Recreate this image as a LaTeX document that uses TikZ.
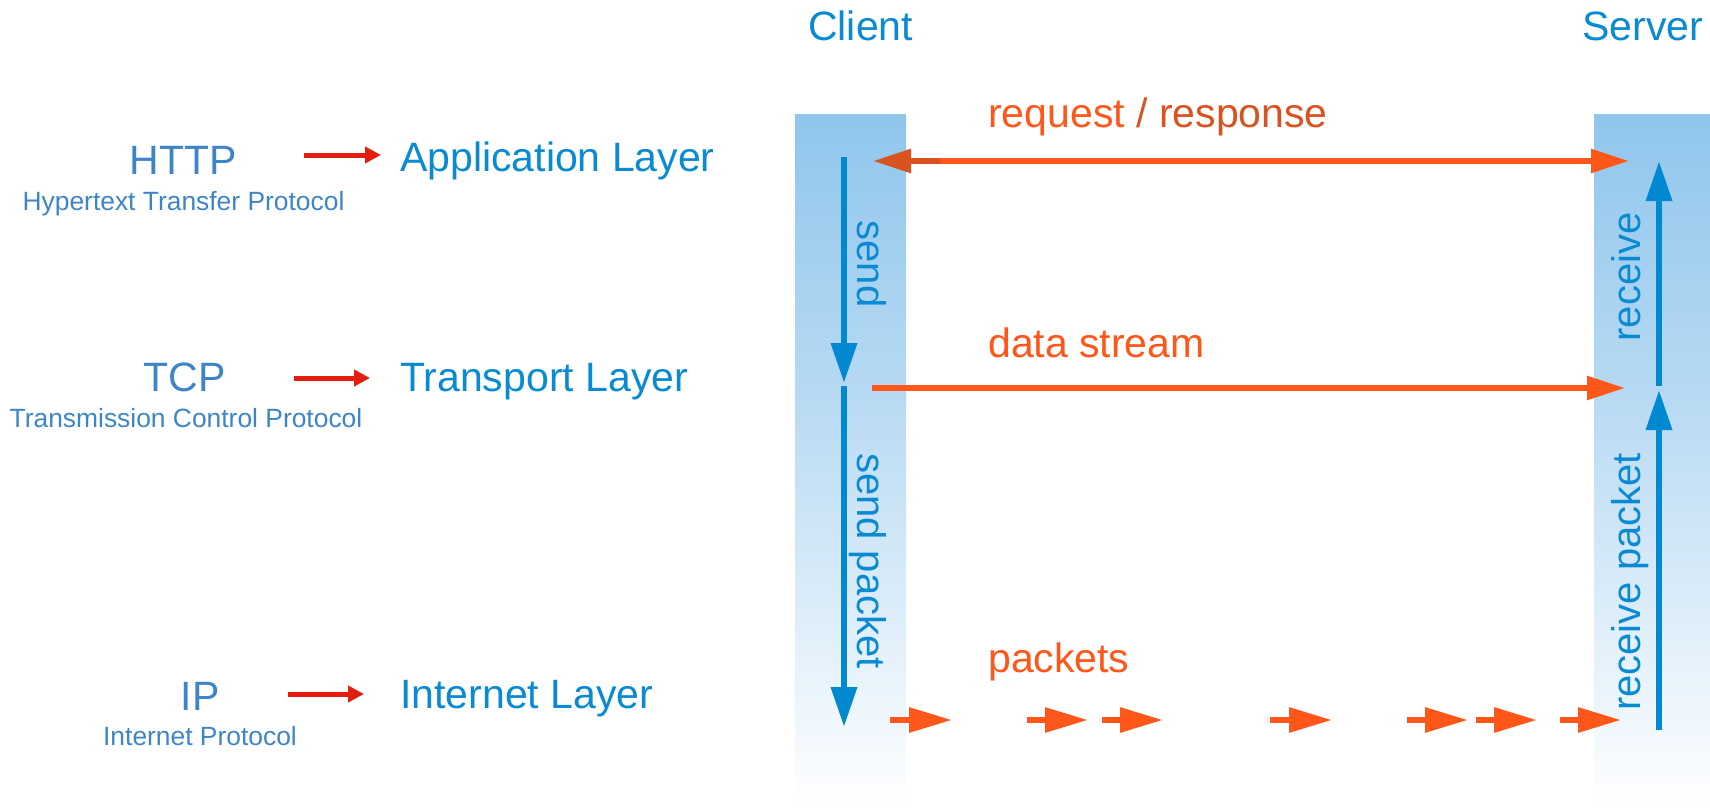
\documentclass[tikz,border=0pt]{standalone}
\usepackage{fontspec}
\setmainfont{Liberation Sans}
\usetikzlibrary{arrows.meta}

\definecolor{layerblue}{HTML}{0A8AD2}
\definecolor{protoblue}{HTML}{3D85C8}
\definecolor{mapred}{HTML}{E41E0E}
\definecolor{flow}{HTML}{FF571A}
\definecolor{flowdark}{HTML}{D8531F}
\definecolor{coltop}{HTML}{90C6EC}
\definecolor{colmid}{HTML}{B8DAF3}
\definecolor{stackblue}{HTML}{0088D1}

\begin{document}
\begin{tikzpicture}[x=1pt,y=-1pt,
  protolabel/.style={font=\fontsize{41}{48}\selectfont, text=protoblue, inner sep=0pt, anchor=base},
  protosub/.style={font=\fontsize{26.4}{32}\selectfont, text=protoblue, inner sep=0pt, anchor=base},
  layerlabel/.style={font=\fontsize{41}{48}\selectfont, text=layerblue, inner sep=0pt, anchor=base west},
  flowlabel/.style={font=\fontsize{41}{48}\selectfont, text=flow, inner sep=0pt, anchor=base west},
  stacklabel/.style={font=\fontsize{40}{48}\selectfont, text=layerblue, inner sep=0pt, anchor=base},
  maparrow/.style={draw=mapred, line width=5pt, -{Triangle[length=16pt,width=16pt]}},
  stackarrow/.style={draw=stackblue, line width=6.5pt, -{Triangle[length=40pt,width=25pt]}},
  flowarrow/.style={draw=flow, line width=5.7pt, -{Triangle[length=38pt,width=23pt]}},
  packetarrow/.style={draw=flow, line width=6pt, -{Triangle[length=43pt,width=24pt]}}
]
\useasboundingbox (0,0) rectangle (1710,808);

% host columns fading downwards
\shade[top color=coltop, bottom color=colmid] (795,114) rectangle (906,401);
\shade[top color=colmid, bottom color=white] (795,400) rectangle (906,808);
\shade[top color=coltop, bottom color=colmid] (1594,114) rectangle (1710,401);
\shade[top color=colmid, bottom color=white] (1594,400) rectangle (1710,808);

% host names
\node[layerlabel] (client) at (808,41) {Client};
\node[layerlabel] (server) at (1582,41) {Server};

% protocols and their layers
\node[protolabel] (http) at (183,174) {HTTP};
\node[protosub] (httpsub) at (183.5,210) {Hypertext Transfer Protocol};
\node[protolabel] (tcp) at (184.5,391) {TCP};
\node[protosub] (tcpsub) at (186,427) {Transmission Control Protocol};
\node[protolabel] (ip) at (200,710) {IP};
\node[protosub] (ipsub) at (200,745) {Internet Protocol};

\node[layerlabel] (app) at (400,171) {Application Layer};
\node[layerlabel] (transport) at (400,391) {Transport Layer};
\node[layerlabel] (internet) at (400,708) {Internet Layer};

\coordinate (m1a) at (304,155); \coordinate (m1b) at (381,155);
\coordinate (m2a) at (294,378); \coordinate (m2b) at (370,378);
\coordinate (m3a) at (288,694); \coordinate (m3b) at (364,694);
\draw[maparrow] (m1a) -- (m1b);
\draw[maparrow] (m2a) -- (m2b);
\draw[maparrow] (m3a) -- (m3b);

% passing down the stack on the client, up on the server
\coordinate (cs1) at (844,157); \coordinate (cs2) at (844,383);
\coordinate (cs3) at (844,386); \coordinate (cs4) at (844,727);
\coordinate (sr1) at (1659,386); \coordinate (sr2) at (1659,161);
\coordinate (sr3) at (1659,730); \coordinate (sr4) at (1659,390);
\draw[stackarrow] (cs1) -- (cs2);
\draw[stackarrow] (cs3) -- (cs4);
\draw[stackarrow] (sr1) -- (sr2);
\draw[stackarrow] (sr3) -- (sr4);

\node[stacklabel, rotate=-90] (send) at (857,264) {send};
\node[stacklabel, rotate=-90] (sendpk) at (857,561) {send packet};
\node[stacklabel, rotate=90] (recv) at (1640,277) {receive};
\node[stacklabel, rotate=90] (recvpk) at (1640,582) {receive packet};

% request / response
\node[flowlabel] (reqlabel) at (988,127) {request {\color{flowdark}/ response}};
\coordinate (rqL) at (873,161); \coordinate (rqM) at (940,161); \coordinate (rqR) at (1629,161);
\draw[flowarrow, draw=flowdark, {Triangle[length=38pt,width=23pt]}-] (rqL) -- (rqM);
\draw[flowarrow] (rqM) -- (rqR);

% data stream
\node[flowlabel] (dslabel) at (988,357) {data stream};
\coordinate (dsL) at (872,388); \coordinate (dsR) at (1625,388);
\draw[flowarrow] (dsL) -- (dsR);

% packets
\node[flowlabel] (pklabel) at (988,672) {packets};
\foreach \a/\b [count=\i] in {890/952, 1027/1088, 1102/1163, 1270/1332, 1407/1468, 1476/1537, 1560/1621} {
  \coordinate (pa\i) at (\a,720);
  \coordinate (pb\i) at (\b,720);
  \draw[packetarrow] (pa\i) -- (pb\i);
}
\end{tikzpicture}
\end{document}
